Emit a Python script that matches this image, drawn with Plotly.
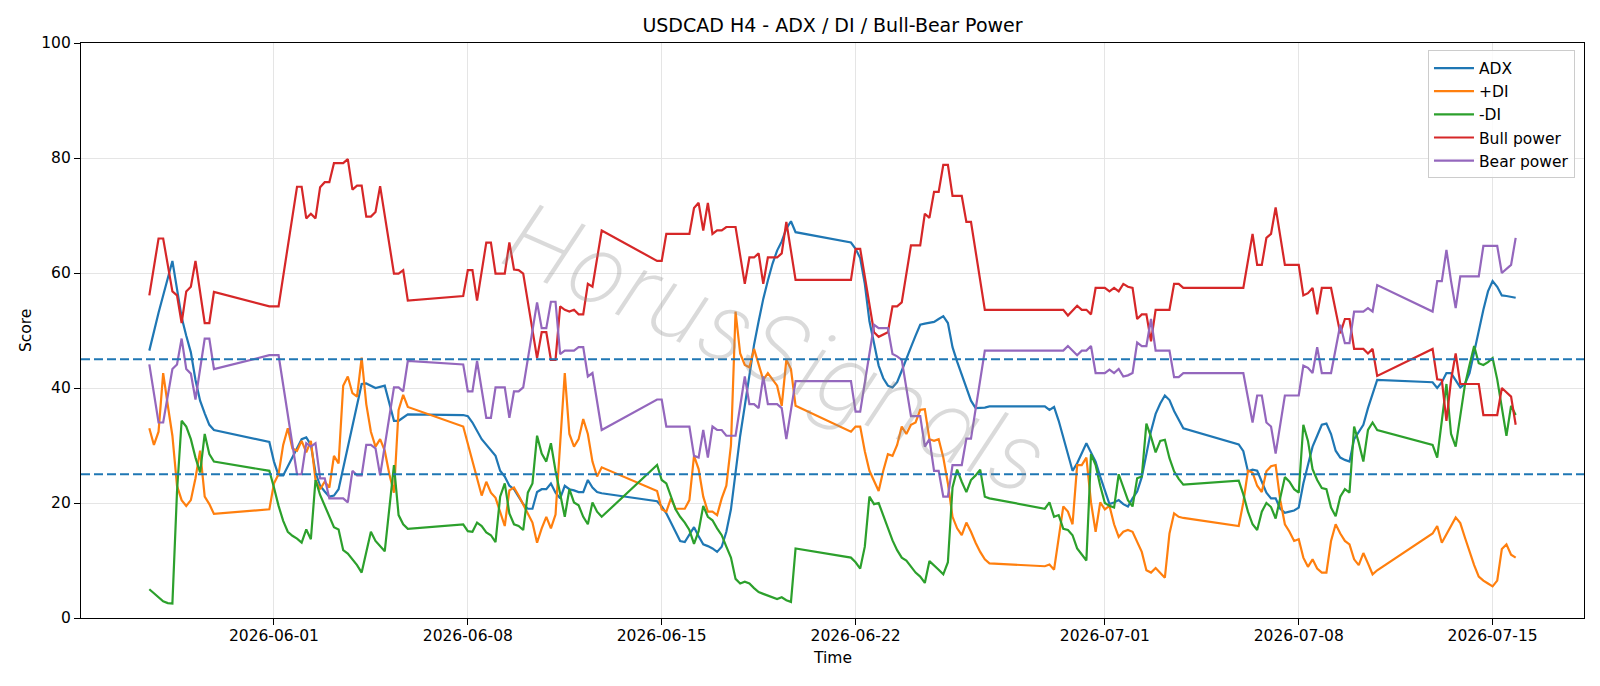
import pandas as pd
import plotly.graph_objects as go

# H4 bar times are given as hours after this instant
BASE = pd.Timestamp("2026-06-01 00:00")

adx = [(-108, 46.5), (-100, 53.1), (-88, 62.1), (-84, 57.5), (-80, 52.3), (-76, 49.1), (-72, 46.2),
       (-68, 41.4), (-64, 37.8), (-60, 35.6), (-56, 33.6), (-52, 32.7), (-4, 30.6), (0, 27.2), (4, 24.8),
       (8, 24.8), (24, 31.1), (28, 31.4), (32, 30.1), (36, 25.3), (40, 23.0), (44, 22.0), (48, 21.1),
       (52, 21.3), (56, 22.4), (76, 40.7), (80, 40.8), (88, 40.0), (96, 40.4), (104, 34.3), (108, 34.3),
       (116, 35.4), (164, 35.3), (168, 35.1), (172, 34.0), (180, 31.1), (184, 30.1), (192, 28.2),
       (196, 25.6), (200, 24.6), (204, 23.0), (208, 22.4), (212, 21.1), (216, 19.8), (220, 19.0),
       (224, 19.0), (228, 21.9), (232, 22.4), (236, 22.4), (240, 23.4), (244, 21.8), (248, 20.8),
       (252, 23.0), (256, 22.4), (260, 22.2), (264, 21.9), (268, 21.9), (272, 24.0), (276, 22.7),
       (280, 21.9), (284, 21.7), (332, 20.3), (336, 19.4), (340, 18.2), (348, 15.0), (352, 13.4),
       (356, 13.2), (360, 14.4), (364, 15.8), (368, 14.2), (372, 12.8), (376, 12.5), (380, 12.1),
       (384, 11.5), (388, 12.4), (392, 15.0), (396, 18.9), (400, 25.3), (404, 31.7), (408, 36.9),
       (412, 42.6), (416, 47.5), (420, 51.6), (424, 55.5), (428, 58.7), (432, 61.6), (436, 63.9),
       (440, 65.5), (444, 67.7), (448, 69.0), (452, 67.1), (500, 65.3), (504, 64.2), (508, 62.6),
       (512, 58.1), (516, 51.6), (520, 47.8), (524, 43.9), (528, 41.7), (532, 40.4), (536, 40.1),
       (540, 41.0), (544, 43.0), (548, 44.9), (552, 47.1), (556, 49.1), (560, 51.0), (564, 51.2),
       (568, 51.3), (572, 51.5), (576, 52.0), (580, 52.5), (584, 51.3), (588, 47.1), (592, 44.6),
       (596, 42.3), (600, 39.8), (604, 37.8), (608, 36.5), (612, 36.5), (616, 36.6), (620, 36.8),
       (668, 36.8), (672, 36.2), (676, 36.7), (680, 34.3), (684, 31.5), (688, 28.5), (692, 25.6),
       (696, 26.9), (700, 28.7), (704, 30.4), (708, 28.8), (712, 27.2), (716, 24.6), (720, 22.1),
       (724, 19.8), (728, 20.1), (732, 20.5), (736, 19.8), (740, 19.4), (744, 20.8), (748, 22.0),
       (752, 24.5), (756, 28.6), (760, 32.5), (764, 35.5), (768, 37.3), (772, 38.7), (776, 37.9),
       (780, 36.0), (784, 34.5), (788, 33.0), (836, 30.2), (840, 29.0), (844, 25.5), (848, 25.8),
       (852, 25.6), (856, 23.7), (860, 21.8), (864, 20.8), (868, 20.8), (872, 19.0), (876, 18.3),
       (880, 18.5), (884, 18.7), (888, 19.2), (892, 23.4), (896, 26.6), (900, 29.8), (904, 31.7),
       (908, 33.6), (912, 33.8), (916, 32.0), (920, 29.1), (924, 27.9), (928, 27.5), (932, 27.2),
       (936, 31.1), (940, 32.4), (944, 33.6), (948, 36.5), (952, 38.8), (956, 41.4), (1004, 41.0),
       (1008, 40.0), (1012, 41.0), (1016, 42.6), (1020, 42.6), (1024, 41.4), (1028, 40.1), (1032, 40.7),
       (1036, 42.6), (1040, 46.2), (1044, 50.0), (1048, 53.6), (1052, 56.8), (1056, 58.6), (1060, 57.6),
       (1064, 56.1), (1068, 56.0), (1072, 55.8), (1076, 55.7)]

plus_di = [(-108, 33.0), (-104, 30.1), (-100, 32.4), (-96, 42.6), (-92, 37.0), (-88, 31.7), (-84, 23.0),
           (-80, 20.5), (-76, 19.5), (-72, 20.5), (-68, 24.3), (-64, 29.1), (-60, 21.1), (-56, 19.8),
           (-52, 18.1), (-4, 18.9), (0, 23.4), (4, 25.0), (8, 30.1), (12, 33.0), (16, 29.5), (20, 29.1),
           (24, 30.8), (28, 28.8), (32, 30.8), (36, 24.0), (40, 22.4), (44, 23.7), (48, 22.7), (52, 28.2),
           (56, 26.9), (60, 40.4), (64, 42.0), (68, 39.1), (72, 38.5), (76, 45.3), (80, 37.2), (84, 32.4),
           (88, 29.8), (92, 31.1), (96, 29.1), (100, 25.0), (104, 21.8), (108, 36.2), (112, 38.8),
           (116, 36.7), (164, 33.3), (168, 30.4), (172, 27.2), (176, 24.3), (180, 21.3), (184, 23.7),
           (188, 21.8), (192, 20.9), (196, 18.5), (200, 16.0), (204, 22.2), (208, 22.7), (212, 21.3),
           (216, 19.8), (220, 18.2), (224, 16.6), (228, 13.1), (232, 15.6), (236, 17.6), (240, 15.6),
           (244, 18.0), (248, 30.0), (252, 42.6), (256, 32.0), (260, 29.8), (264, 31.1), (268, 34.6),
           (272, 32.0), (276, 27.2), (280, 24.6), (284, 26.2), (332, 22.1), (336, 18.9), (340, 18.5),
           (344, 20.8), (348, 19.0), (356, 19.0), (360, 20.5), (364, 28.2), (368, 25.9), (372, 21.1),
           (376, 18.5), (380, 18.5), (384, 17.9), (388, 20.8), (392, 23.0), (396, 30.0), (400, 53.3),
           (404, 46.0), (408, 44.0), (412, 43.6), (416, 46.8), (420, 43.9), (424, 41.4), (428, 42.6),
           (432, 41.4), (436, 40.4), (440, 36.9), (444, 44.9), (448, 43.3), (452, 36.9), (500, 32.4),
           (504, 33.3), (508, 33.3), (512, 29.0), (516, 25.6), (520, 23.7), (524, 22.1), (528, 25.6),
           (532, 28.5), (536, 28.2), (540, 30.1), (544, 33.3), (548, 32.0), (552, 33.6), (556, 34.0),
           (560, 36.2), (564, 36.3), (568, 31.1), (572, 30.8), (576, 31.1), (580, 27.9), (584, 23.4),
           (588, 17.6), (592, 15.6), (596, 14.4), (600, 16.6), (604, 15.0), (608, 13.1), (612, 11.5),
           (616, 10.2), (620, 9.5), (668, 9.0), (672, 9.3), (676, 8.4), (684, 19.4), (688, 18.5),
           (692, 16.3), (696, 26.6), (700, 26.6), (704, 27.9), (708, 20.1), (712, 15.0), (716, 20.1),
           (720, 18.9), (724, 19.5), (728, 16.3), (732, 14.1), (736, 15.0), (740, 15.3), (744, 15.0),
           (748, 13.1), (752, 11.5), (756, 8.3), (760, 7.9), (764, 8.7), (768, 7.9), (772, 7.0),
           (776, 14.7), (780, 18.2), (784, 17.6), (788, 17.4), (836, 16.0), (840, 20.1), (844, 25.6),
           (848, 25.3), (852, 23.0), (856, 21.9), (860, 25.5), (864, 26.4), (868, 26.6), (872, 20.5),
           (876, 16.3), (880, 15.0), (884, 13.4), (888, 13.7), (892, 10.5), (896, 8.9), (900, 10.2),
           (904, 8.6), (908, 7.9), (912, 7.9), (916, 13.4), (920, 16.3), (924, 14.7), (928, 13.4),
           (932, 12.8), (936, 10.2), (940, 9.2), (944, 11.3), (948, 9.5), (952, 7.6), (956, 8.3),
           (1004, 14.7), (1008, 16.0), (1012, 13.1), (1024, 17.5), (1028, 16.5), (1032, 14.0),
           (1036, 11.5), (1040, 9.2), (1044, 7.2), (1048, 6.5), (1052, 6.0), (1056, 5.5), (1060, 6.5),
           (1064, 12.0), (1068, 12.8), (1072, 11.0), (1076, 10.5)]

minus_di = [(-108, 5.0), (-104, 4.3), (-100, 3.5), (-96, 2.9), (-92, 2.6), (-88, 2.5), (-84, 22.0),
            (-80, 34.3), (-76, 33.3), (-72, 31.1), (-68, 27.9), (-64, 25.3), (-60, 32.0), (-56, 28.5),
            (-52, 27.2), (-4, 25.6), (0, 22.7), (4, 19.5), (8, 16.9), (12, 15.0), (16, 14.3), (20, 13.8),
            (24, 13.1), (28, 15.4), (32, 13.7), (36, 24.0), (40, 21.4), (44, 19.5), (48, 17.6), (52, 15.8),
            (56, 15.4), (60, 11.8), (64, 11.2), (68, 10.2), (72, 9.2), (76, 7.9), (84, 15.0), (88, 13.4),
            (92, 12.4), (96, 11.6), (104, 26.6), (108, 17.9), (112, 16.3), (116, 15.5), (164, 16.3),
            (168, 15.1), (172, 15.0), (176, 16.6), (180, 16.0), (184, 14.9), (188, 14.4), (192, 13.2),
            (196, 21.1), (200, 23.4), (204, 18.2), (208, 16.3), (212, 16.0), (216, 15.3), (220, 21.8),
            (224, 23.4), (228, 31.7), (232, 28.6), (236, 27.2), (240, 30.4), (244, 25.6), (248, 21.5),
            (252, 17.6), (256, 22.4), (260, 20.1), (264, 19.6), (268, 17.6), (272, 16.3), (276, 20.1),
            (280, 18.5), (284, 17.6), (332, 26.6), (336, 24.0), (340, 23.4), (344, 21.0), (348, 18.9),
            (352, 17.6), (356, 16.6), (360, 15.3), (364, 12.9), (368, 15.1), (372, 19.5), (376, 17.6),
            (380, 17.0), (384, 15.6), (388, 14.4), (392, 12.4), (396, 10.5), (400, 6.8), (404, 6.0),
            (408, 6.3), (412, 6.0), (416, 5.2), (420, 4.5), (424, 4.2), (428, 3.9), (432, 3.6), (436, 3.3),
            (440, 3.6), (444, 3.1), (448, 2.8), (452, 12.1), (500, 10.5), (504, 9.7), (508, 8.6),
            (512, 12.4), (516, 21.1), (520, 19.8), (524, 20.0), (528, 17.8), (532, 15.6), (536, 13.5),
            (540, 11.8), (544, 10.5), (548, 10.0), (552, 8.9), (556, 7.9), (560, 7.2), (564, 6.1),
            (568, 9.9), (572, 9.2), (576, 8.4), (580, 7.6), (584, 9.7), (588, 22.7), (592, 25.8),
            (596, 23.7), (600, 21.9), (604, 24.0), (608, 24.8), (612, 25.8), (616, 21.1), (620, 20.8),
            (668, 19.0), (672, 20.1), (676, 17.6), (680, 17.9), (684, 15.5), (688, 15.3), (692, 14.4),
            (696, 12.1), (700, 11.0), (704, 10.0), (708, 28.5), (712, 26.6), (716, 23.0), (720, 20.0),
            (724, 19.5), (728, 19.2), (732, 25.0), (736, 22.7), (740, 20.5), (744, 19.4), (748, 24.3),
            (752, 24.6), (756, 33.8), (760, 31.5), (764, 28.8), (768, 30.8), (772, 31.0), (776, 27.8),
            (780, 25.5), (784, 24.2), (788, 23.2), (836, 23.9), (840, 21.5), (844, 18.5), (848, 16.3),
            (852, 15.3), (856, 18.5), (860, 20.0), (864, 19.3), (868, 17.3), (872, 21.0), (876, 24.5),
            (880, 23.7), (884, 22.4), (888, 21.8), (892, 33.6), (896, 30.8), (900, 25.9), (904, 24.0),
            (908, 22.6), (912, 22.4), (916, 19.2), (920, 17.7), (924, 21.1), (928, 22.4), (932, 21.8),
            (936, 33.3), (940, 30.5), (944, 27.2), (948, 32.7), (952, 34.0), (956, 32.7), (1004, 30.1),
            (1008, 27.9), (1016, 40.7), (1020, 32.0), (1024, 29.8), (1032, 40.5), (1036, 44.0),
            (1040, 47.3), (1044, 44.3), (1048, 44.0), (1052, 44.5), (1056, 45.2), (1060, 41.5),
            (1068, 31.7), (1072, 36.9), (1076, 35.3)]

bull = [(-108, 56.1), (-100, 66.0), (-96, 66.0), (-88, 56.8), (-84, 56.1), (-80, 51.3), (-76, 56.8),
        (-72, 57.6), (-68, 62.1), (-60, 51.3), (-56, 51.3), (-52, 56.7), (-4, 54.2), (4, 54.2), (20, 75.0),
        (24, 75.0), (28, 69.5), (32, 70.3), (36, 69.5), (40, 74.9), (44, 75.8), (48, 75.8), (52, 79.1),
        (56, 79.1), (60, 79.1), (64, 79.8), (68, 74.5), (72, 75.2), (76, 75.2), (80, 69.8), (84, 69.8),
        (88, 70.6), (92, 75.1), (104, 59.9), (108, 59.9), (112, 60.5), (116, 55.2), (164, 56.0),
        (168, 60.5), (172, 60.5), (176, 55.2), (184, 65.3), (188, 65.3), (192, 59.9), (196, 59.9),
        (200, 59.9), (204, 65.3), (208, 60.6), (212, 60.5), (216, 59.9), (228, 45.2), (232, 49.7),
        (236, 49.7), (240, 44.9), (244, 44.9), (248, 54.2), (252, 53.6), (256, 53.3), (260, 53.6),
        (264, 52.8), (268, 52.8), (272, 58.1), (276, 57.6), (284, 67.4), (332, 62.1), (336, 62.1),
        (340, 66.8), (360, 66.8), (364, 71.3), (368, 72.2), (372, 67.4), (376, 72.2), (380, 66.8),
        (384, 67.4), (388, 67.4), (392, 68.0), (400, 68.0), (408, 58.1), (412, 62.7), (416, 62.7),
        (420, 63.4), (424, 58.1), (428, 62.7), (436, 62.7), (440, 63.4), (444, 68.9), (452, 58.8),
        (500, 58.8), (504, 64.2), (508, 64.2), (520, 49.7), (524, 48.9), (532, 49.7), (536, 54.2),
        (540, 54.2), (544, 54.9), (552, 64.8), (560, 64.8), (564, 70.3), (568, 69.6), (572, 74.1),
        (576, 74.1), (580, 78.8), (584, 78.8), (588, 73.4), (596, 73.4), (600, 68.9), (604, 68.9),
        (616, 53.6), (620, 53.6), (668, 53.6), (684, 53.6), (688, 52.6), (696, 54.3), (700, 53.6),
        (704, 53.6), (708, 52.8), (712, 57.4), (720, 57.4), (724, 56.8), (728, 57.4), (732, 56.8),
        (736, 58.1), (740, 57.6), (744, 57.4), (748, 52.0), (752, 52.8), (756, 52.8), (760, 48.1),
        (764, 53.6), (776, 53.6), (780, 58.1), (784, 58.1), (788, 57.4), (836, 57.4), (840, 57.4),
        (848, 66.8), (852, 61.4), (856, 61.4), (860, 66.1), (864, 66.8), (868, 71.4), (876, 61.4),
        (888, 61.4), (892, 56.1), (896, 56.5), (900, 57.4), (904, 52.8), (908, 57.4), (916, 57.4),
        (924, 49.5), (928, 52.0), (932, 52.0), (936, 46.8), (944, 46.8), (948, 46.0), (952, 46.8),
        (956, 42.1), (1004, 46.8), (1008, 41.5), (1012, 41.4), (1016, 34.3), (1020, 41.4), (1024, 46.0),
        (1028, 40.7), (1044, 40.7), (1048, 35.3), (1060, 35.3), (1064, 40.0), (1072, 38.5), (1076, 33.6)]

bear = [(-108, 44.1), (-100, 34.0), (-96, 34.0), (-88, 43.3), (-84, 44.1), (-80, 48.6), (-76, 43.3),
        (-72, 42.5), (-68, 38.0), (-60, 48.6), (-56, 48.6), (-52, 43.3), (-4, 45.7), (4, 45.7), (20, 25.0),
        (24, 25.0), (28, 30.4), (32, 29.8), (36, 30.4), (40, 24.3), (44, 24.3), (48, 20.8), (52, 20.8),
        (56, 20.8), (60, 20.8), (64, 20.1), (68, 25.6), (72, 24.8), (76, 24.8), (80, 30.1), (84, 30.1),
        (88, 29.5), (92, 24.8), (104, 40.1), (108, 40.1), (112, 39.4), (116, 44.7), (164, 44.1),
        (168, 39.4), (172, 39.4), (176, 44.7), (184, 34.8), (188, 34.8), (192, 40.1), (196, 40.1),
        (200, 40.1), (204, 34.8), (208, 39.4), (212, 39.4), (216, 40.1), (228, 54.9), (232, 50.4),
        (236, 50.4), (240, 55.0), (244, 55.0), (248, 45.9), (252, 46.5), (256, 46.5), (260, 46.5),
        (264, 47.1), (268, 47.1), (272, 42.0), (276, 42.6), (284, 32.7), (332, 38.0), (336, 38.0),
        (340, 33.3), (360, 33.3), (364, 28.2), (368, 27.9), (372, 32.7), (376, 27.9), (380, 33.3),
        (384, 32.7), (388, 32.7), (392, 31.7), (400, 31.7), (408, 42.0), (412, 37.2), (416, 37.2),
        (420, 36.5), (424, 42.0), (428, 37.2), (436, 37.2), (440, 36.5), (444, 31.1), (452, 41.2),
        (500, 41.2), (504, 35.9), (508, 35.9), (520, 51.0), (524, 50.4), (532, 50.4), (536, 45.9),
        (540, 45.5), (544, 44.9), (552, 35.1), (560, 35.1), (564, 29.8), (568, 31.1), (572, 25.6),
        (576, 25.6), (580, 21.1), (584, 21.1), (588, 26.6), (596, 26.6), (600, 31.2), (604, 31.2),
        (616, 46.5), (620, 46.5), (668, 46.5), (684, 46.5), (688, 47.3), (696, 45.7), (700, 46.5),
        (704, 46.5), (708, 47.3), (712, 42.6), (720, 42.6), (724, 43.2), (728, 42.6), (732, 43.3),
        (736, 42.0), (740, 42.2), (744, 42.6), (748, 47.9), (752, 47.3), (756, 47.3), (760, 52.0),
        (764, 46.5), (776, 46.5), (780, 41.9), (784, 41.9), (788, 42.6), (836, 42.6), (840, 42.6),
        (848, 34.0), (852, 38.7), (856, 38.7), (860, 34.0), (864, 33.3), (868, 28.6), (876, 38.7),
        (888, 38.7), (892, 43.9), (896, 43.5), (900, 42.6), (904, 47.1), (908, 42.6), (916, 42.6),
        (924, 51.0), (928, 47.8), (932, 47.8), (936, 53.3), (944, 53.3), (948, 53.9), (952, 53.3),
        (956, 57.9), (1004, 53.3), (1008, 58.6), (1012, 58.6), (1016, 64.0), (1020, 58.6), (1024, 53.9),
        (1028, 59.4), (1044, 59.4), (1048, 64.7), (1060, 64.7), (1064, 60.0), (1072, 61.4), (1076, 66.1)]

series = [("ADX", adx, "#1f77b4"), ("+DI", plus_di, "#ff7f0e"), ("-DI", minus_di, "#2ca02c"),
          ("Bull power", bull, "#d62728"), ("Bear power", bear, "#9467bd")]

THRESHOLDS = [25, 45]
X_TICKS = ["2026-06-01", "2026-06-08", "2026-06-15", "2026-06-22", "2026-07-01", "2026-07-08", "2026-07-15"]
Y_TICKS = [0, 20, 40, 60, 80, 100]
TITLE = "USDCAD H4 - ADX / DI / Bull-Bear Power"
WATERMARK = "HorusSignals"


def to_time(hours):
    return [BASE + pd.Timedelta(hours=h) for h in hours]


fig = go.Figure()
for name, pts, color in series:
    hrs = [p[0] for p in pts]
    vals = [p[1] for p in pts]
    fig.add_trace(go.Scatter(x=to_time(hrs), y=vals, mode="lines", name=name,
                             line=dict(color=color, width=2.2)))

all_h = [p[0] for _, pts, _ in series for p in pts]
hmin, hmax = min(all_h), max(all_h)
pad = 0.05 * (hmax - hmin)
xr = to_time([hmin - pad, hmax + pad])

for th in THRESHOLDS:
    fig.add_shape(type="line", xref="x domain", x0=0, x1=1, yref="y", y0=th, y1=th,
                  line=dict(color="#1f77b4", width=1.8, dash="9px,4px"), layer="above")

FONT = "DejaVu Sans"
fig.update_layout(
    width=1600, height=686,
    margin=dict(l=81, r=16, t=43, b=68),
    paper_bgcolor="white", plot_bgcolor="white",
    font=dict(family=FONT, size=15, color="black"),
    title=dict(text=TITLE, x=0.5203, xref="container", xanchor="center",
               y=1 - 25.5 / 686, yref="container", yanchor="middle",
               font=dict(family=FONT, size=19, color="black")),
    showlegend=True,
    legend=dict(x=0.994, y=0.987, xanchor="right", yanchor="top",
                bgcolor="rgba(255,255,255,0.85)", bordercolor="#cccccc", borderwidth=1,
                font=dict(family=FONT, size=15.5), tracegroupgap=0, itemwidth=40),
)
fig.update_xaxes(range=xr, tickvals=pd.to_datetime(X_TICKS), ticktext=X_TICKS,
                 showgrid=True, gridcolor="#e5e5e5", gridwidth=1.2,
                 showline=True, linecolor="black", linewidth=1.3, mirror=True,
                 ticks="outside", ticklen=6, tickwidth=1.3, tickcolor="black",
                 ticklabelstandoff=-3,
                 tickfont=dict(family=FONT, size=15.5), zeroline=False)
fig.update_yaxes(range=[0, 100], tickvals=Y_TICKS,
                 showgrid=True, gridcolor="#e5e5e5", gridwidth=1.2,
                 showline=True, linecolor="black", linewidth=1.3, mirror=True,
                 ticks="outside", ticklen=6, tickwidth=1.3, tickcolor="black",
                 tickfont=dict(family=FONT, size=15.5), zeroline=False)

fig.add_annotation(text="Time", xref="paper", yref="paper", x=0.5, y=-0.069,
                   xanchor="center", yanchor="middle", showarrow=False,
                   font=dict(family=FONT, size=15.5))
fig.add_annotation(text="Score", xref="paper", yref="paper", x=-0.0369, y=0.5,
                   xanchor="center", yanchor="middle", textangle=-90, showarrow=False,
                   font=dict(family=FONT, size=15.5))
fig.add_annotation(text=WATERMARK, xref="paper", yref="paper", x=0.462, y=0.47,
                   xanchor="center", yanchor="middle", textangle=24, showarrow=False,
                   font=dict(family="Inter", size=95, color="rgba(140,140,140,0.32)",
                             style="italic", weight=200))

fig.write_html("out.html")
